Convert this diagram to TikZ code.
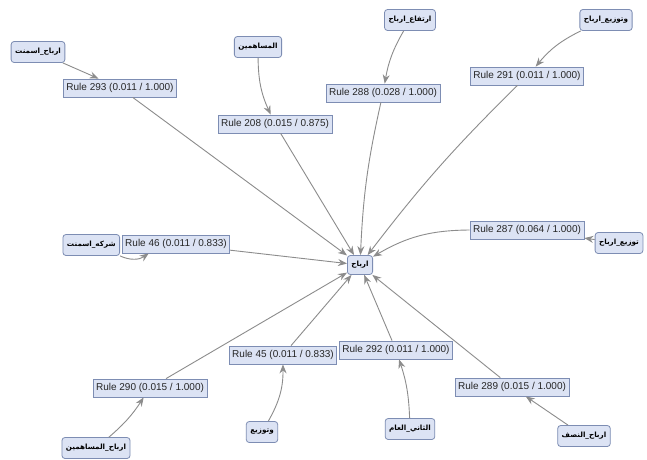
\documentclass[tikz,border=0pt]{standalone}
\usepackage{fontspec}
\setmainfont{Liberation Sans}
\newfontfamily\arabicfont[Script=Arabic]{DejaVu Sans}
\TeXXeTstate=1
\usetikzlibrary{arrows.meta}
\definecolor{boxfill}{HTML}{DCE3F4}
\definecolor{boxline}{HTML}{7D8DB3}
\definecolor{linkgrey}{HTML}{8C8C8C}
\begin{document}
\begin{tikzpicture}[x=1pt,y=-1pt,
 rulebox/.style={draw=boxline, fill=boxfill, line width=0.8pt, font=\fontsize{10}{12}\selectfont, inner xsep=3pt, inner ysep=0pt, minimum height=18pt, text=black!85},
 itembox/.style={draw=boxline, fill=boxfill, line width=0.8pt, rounded corners=3pt, font=\arabicfont\bfseries\fontsize{7.2}{9}\selectfont, inner xsep=4pt, inner ysep=0pt, minimum height=21pt, text=black},
 link/.style={draw=linkgrey, line width=0.9pt, -{Stealth[length=9pt,width=7pt,inset=3pt]}}]
\useasboundingbox (0,0) rectangle (647,459);
\fill[white] (0,0) rectangle (647,459);

% target
\node[itembox, minimum height=19pt] (target) at (360,265) {\beginR ارباح\endR};

% rules
\node[rulebox] (r293) at (120,88) {Rule 293 (0.011 / 1.000)};
\node[rulebox] (r208) at (275,124) {Rule 208 (0.015 / 0.875)};
\node[rulebox] (r288) at (383,93) {Rule 288 (0.028 / 1.000)};
\node[rulebox] (r291) at (527,76) {Rule 291 (0.011 / 1.000)};
\node[rulebox] (r46) at (176,244) {Rule 46 (0.011 / 0.833)};
\node[rulebox] (r287) at (527,230) {Rule 287 (0.064 / 1.000)};
\node[rulebox] (r45) at (283,355) {Rule 45 (0.011 / 0.833)};
\node[rulebox] (r292) at (396,350) {Rule 292 (0.011 / 1.000)};
\node[rulebox] (r290) at (150,388) {Rule 290 (0.015 / 1.000)};
\node[rulebox] (r289) at (512,387) {Rule 289 (0.015 / 1.000)};

% items
\node[itembox] (a293) at (38,52) {\beginR ارباح\_اسمنت\endR};
\node[itembox] (a208) at (258,47) {\beginR المساهمين\endR};
\node[itembox] (a288) at (410,20) {\beginR ارتفاع\_ارباح\endR};
\node[itembox] (a291) at (606,20) {\beginR وتوزيع\_ارباح\endR};
\node[itembox, anchor=east] (a46) at (120,245) {\beginR شركه\_اسمنت\endR};
\node[itembox] (a287) at (619,243) {\beginR توزيع\_ارباح\endR};
\node[itembox] (a290) at (96,448) {\beginR ارباح\_المساهمين\endR};
\node[itembox] (a45) at (262,432) {\beginR وتوزيع\endR};
\node[itembox] (a292) at (410,429) {\beginR الثاني\_العام\endR};
\node[itembox] (a289) at (584,436) {\beginR ارباح\_النصف\endR};

% rules to target
\draw[link] (r293) -- (target);
\draw[link] (r208) -- (target);
\draw[link] (r288) to[bend right=5] (target);
\draw[link] (r291) to[bend right=4] (target);
\draw[link] (r287.west) to[bend right=15] (target);
\draw[link] (r46) -- (target);
\draw[link] (r45) -- (target);
\draw[link] (r292) -- (target);
\draw[link] (r290) -- (target);
\draw[link] (r289) -- (target);

% items to rules
\draw[link] (a293) -- (r293);
\draw[link] (a208) to[bend right=12] (r208);
\draw[link] (a288) to[bend right=10] (r288);
\draw[link] (a291) to[bend right=12] (r291);
\draw[link] (a287) -- (r287);
\draw[link] (a46.south east) to[bend right=30] (r46.199);
\draw[link] (a45) to[bend right=15] (r45);
\draw[link] (a292) to[bend right=8] (r292);
\draw[link] (a290) to[bend right=8] (r290);
\draw[link] (a289) -- (r289);
\end{tikzpicture}
\end{document}
